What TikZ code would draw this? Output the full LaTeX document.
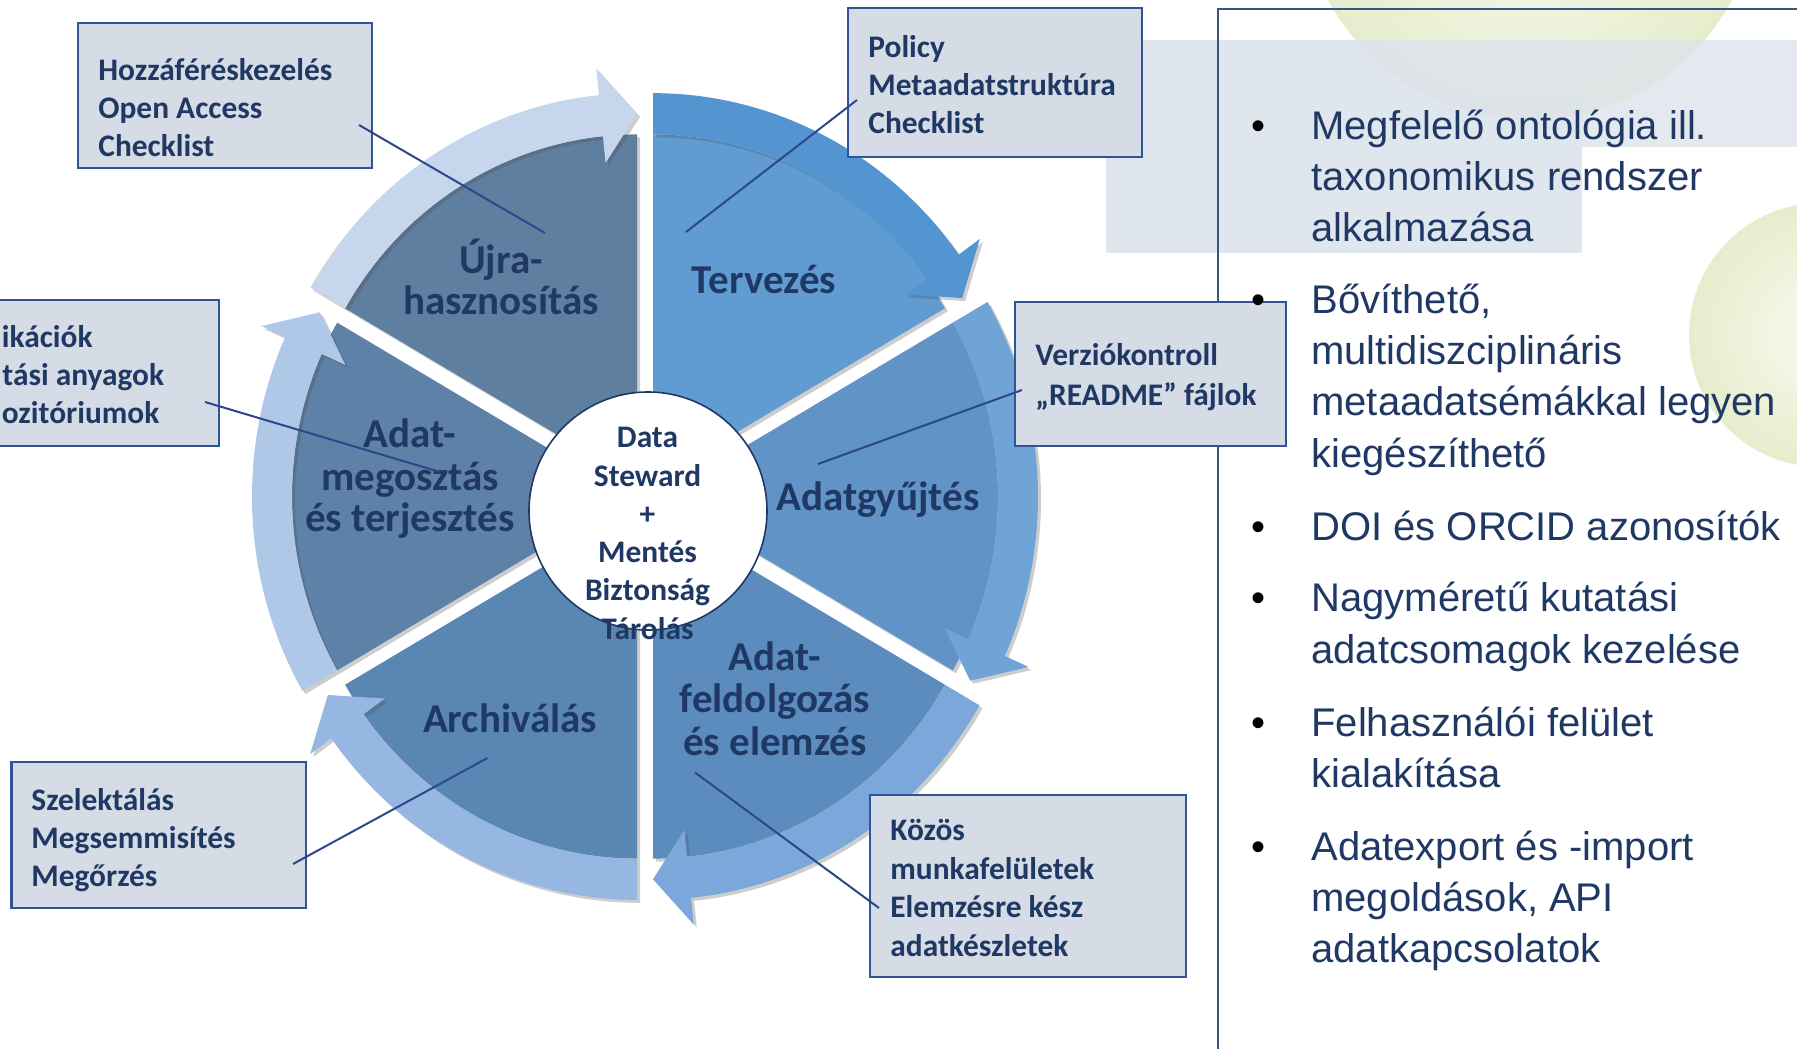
\documentclass[tikz,border=0pt]{standalone}
\usepackage{fontspec}
\setmainfont{Carlito}
\newfontfamily\arialf{Liberation Sans}
\usetikzlibrary{shadows,fit}
\definecolor{navy}{RGB}{31,56,100}
\definecolor{boxfill}{RGB}{214,220,229}
\definecolor{boxline}{RGB}{47,85,151}
\definecolor{connline}{RGB}{44,72,138}
\definecolor{panelline}{RGB}{58,83,128}
\definecolor{greyback}{RGB}{221,227,235}
\definecolor{greenin}{RGB}{248,250,240}
\definecolor{greenout}{RGB}{230,237,204}
\definecolor{pieA}{RGB}{96,156,210}
\definecolor{bandA}{RGB}{84,148,208}
\definecolor{pieB}{RGB}{97,147,199}
\definecolor{bandB}{RGB}{113,164,214}
\definecolor{pieC}{RGB}{92,140,190}
\definecolor{bandC}{RGB}{124,167,218}
\definecolor{pieD}{RGB}{90,134,180}
\definecolor{bandD}{RGB}{150,183,225}
\definecolor{pieE}{RGB}{94,129,168}
\definecolor{bandE}{RGB}{176,200,232}
\definecolor{pieF}{RGB}{95,127,160}
\definecolor{bandF}{RGB}{198,214,236}

\newcommand\wheelpie[2]{%
  \pgfmathsetmacro\wsA{#1}%
  \pgfmathsetmacro\wsE{#1-60}%
  \pgfmathsetmacro\wsM{#1-30}%
  \fill[#2, wheelshadow] (\wsM:16) -- ++(\wsA:337) arc[start angle=\wsA, end angle=\wsE, radius=337] -- cycle;%
}
\newcommand\wheelband[2]{%
  \pgfmathsetmacro\wsA{#1}%
  \pgfmathsetmacro\wsE{#1-60}%
  \pgfmathsetmacro\wsH{#1-54.2}%
  \pgfmathsetmacro\wsM{#1-30}%
  \begin{scope}[shift={(\wsM:16)}]
  \fill[#2, wheelshadow] (\wsA:377) arc[start angle=\wsA, end angle=\wsH, radius=377] -- (\wsH:403) -- (\wsE:357) -- (\wsH:311) -- (\wsH:337) arc[start angle=\wsH, end angle=\wsA, radius=337] -- cycle;
  \end{scope}%
}

\begin{document}
\begin{tikzpicture}[x=0.5pt, y=-0.5pt,
  wheelshadow/.style={drop shadow={shadow xshift=1.5pt, shadow yshift=-1.5pt, opacity=0.28, fill=black!70}},
  seglabel/.style={font=\fontsize{20.5}{21}\selectfont\bfseries, text=navy, anchor=base, inner sep=0pt},
  hubtext/.style={font=\fontsize{15.7}{19}\selectfont\bfseries, text=navy, anchor=base, inner sep=0pt},
  calltext/.style={font=\fontsize{15.7}{19}\selectfont\bfseries, text=navy, anchor=base west, inner sep=0pt},
  bullettext/.style={font=\arialf\fontsize{20}{25}\selectfont, text=navy, anchor=base west, inner sep=0pt},
  bulletdot/.style={font=\arialf\fontsize{20}{25}\selectfont, text=black, anchor=base, inner sep=0pt},
  callout/.style={draw=boxline, fill=boxfill, line width=1.3pt, inner sep=0pt},
  conn/.style={draw=connline, line width=1pt},
  hubstyle/.style={circle, draw=navy, line width=0.8pt, fill=white, minimum size=119pt, inner sep=0pt}
]
\useasboundingbox (0,0) rectangle (1797,1049);
\clip (0,0) rectangle (1797,1049);

% background decorations
\shade[inner color=greenin, outer color=greenout] (1530,-110) circle[radius=230];
\shade[inner color=greenin, outer color=greenout] (1821,335) circle[radius=132];
\fill[greyback, opacity=0.9] (1106,40) rectangle (1582,253);
\fill[greyback, opacity=0.8] (1582,40) rectangle (1797,147);
\draw[panelline, line width=0.65pt] (1218,1049) -- (1218,9) -- (1797,9);

% wheel
\begin{scope}[shift={(645,496.5)}, yscale=-1.032]
  \wheelpie{90}{pieA}
  \wheelpie{30}{pieB}
  \wheelpie{-30}{pieC}
  \wheelpie{-90}{pieD}
  \wheelpie{210}{pieE}
  \wheelpie{150}{pieF}
  \wheelband{90}{bandA}
  \wheelband{30}{bandB}
  \wheelband{-30}{bandC}
  \wheelband{-90}{bandD}
  \wheelband{210}{bandE}
  \wheelband{150}{bandF}
\end{scope}

% hub
\node[hubstyle] (hub) at (648,511) {};

% sector labels
\node[seglabel] (lujra1) at (501,273) {Újra-};
\node[seglabel] (lujra2) at (501,314) {hasznosítás};
\node[seglabel] (lterv) at (764,293) {Tervezés};
\node[seglabel] (lgyujt) at (878,510) {Adatgyűjtés};
\node[seglabel] (lfeld1) at (775,670) {Adat-};
\node[seglabel] (lfeld2) at (775,712) {feldolgozás};
\node[seglabel] (lfeld3) at (775,755) {és elemzés};
\node[seglabel] (larch) at (510,732) {Archiválás};
\node[seglabel] (lmeg1) at (410,447) {Adat-};
\node[seglabel] (lmeg2) at (410,490) {megosztás};
\node[seglabel] (lmeg3) at (410,531) {és terjesztés};

% hub text
\node[hubtext] (h1) at (647.5,447.5) {Data};
\node[hubtext] (h2) at (647.5,486) {Steward};
\node[hubtext] (h3) at (647.5,524) {+};
\node[hubtext] (h4) at (647.5,562.5) {Mentés};
\node[hubtext] (h5) at (647.5,600.5) {Biztonság};
\node[hubtext] (h6) at (647.5,639) {Tárolás};

% callout boxes
\node[callout, fit={(78,23) (372,168)}] (box1) {};
\node[callout, fit={(848,8) (1142,157)}] (box2) {};
\node[callout, fit={(1015,302) (1286,446)}] (box3) {};
\node[callout, fit={(-60,300) (219,446)}] (box4) {};
\node[callout, fit={(11.5,762) (306,908)}] (box5) {};
\node[callout, fit={(870,795) (1186,977)}] (box6) {};

\node[calltext] (t1a) at (98,80) {Hozzáféréskezelés};
\node[calltext] (t1b) at (98,118) {Open Access};
\node[calltext] (t1c) at (98,156.5) {Checklist};

\node[calltext] (t2a) at (868,57) {Policy};
\node[calltext] (t2b) at (868,95) {Metaadatstruktúra};
\node[calltext] (t2c) at (868,133.5) {Checklist};

\node[calltext] (t3a) at (1035,365) {Verziókontroll};
\node[calltext] (t3b) at (1035,405) {„README” fájlok};

\node[calltext] (t4a) at (1.5,347) {ikációk};
\node[calltext] (t4b) at (2,385.5) {tási anyagok};
\node[calltext] (t4c) at (1.5,423.5) {ozitóriumok};

\node[calltext] (t5a) at (31,810) {Szelektálás};
\node[calltext] (t5b) at (31,848) {Megsemmisítés};
\node[calltext] (t5c) at (31,886) {Megőrzés};

\node[calltext] (t6a) at (890,840) {Közös};
\node[calltext] (t6b) at (890,879) {munkafelületek};
\node[calltext] (t6c) at (890,917) {Elemzésre kész};
\node[calltext] (t6d) at (890,956) {adatkészletek};

% connectors
\coordinate (c1a) at (359,125);  \coordinate (c1b) at (545,233);
\coordinate (c2a) at (857,100);  \coordinate (c2b) at (686,232);
\coordinate (c3a) at (1022,390); \coordinate (c3b) at (818,464);
\coordinate (c4a) at (205,402);  \coordinate (c4b) at (440,472);
\coordinate (c5a) at (293,864);  \coordinate (c5b) at (487.5,758);
\coordinate (c6a) at (879,908);  \coordinate (c6b) at (695,772.5);
\draw[conn] (c1a) -- (c1b);
\draw[conn] (c2a) -- (c2b);
\draw[conn] (c3a) -- (c3b);
\draw[conn] (c4a) -- (c4b);
\draw[conn] (c5a) -- (c5b);
\draw[conn] (c6a) -- (c6b);

% bullet list
\node[bulletdot] (d1) at (1258,139) {•};
\node[bullettext] (r1a) at (1311,139) {Megfelelő ontológia ill.};
\node[bullettext] (r1b) at (1311,190.5) {taxonomikus rendszer};
\node[bullettext] (r1c) at (1311,241.5) {alkalmazása};
\node[bulletdot] (d2) at (1258,313) {•};
\node[bullettext] (r2a) at (1311,313) {Bővíthető,};
\node[bullettext] (r2b) at (1311,364.5) {multidiszciplináris};
\node[bullettext] (r2c) at (1311,415.5) {metaadatsémákkal legyen};
\node[bullettext] (r2d) at (1311,467) {kiegészíthető};
\node[bulletdot] (d3) at (1258,540) {•};
\node[bullettext] (r3a) at (1311,540) {DOI és ORCID azonosítók};
\node[bulletdot] (d4) at (1258,611) {•};
\node[bullettext] (r4a) at (1311,611) {Nagyméretű kutatási};
\node[bullettext] (r4b) at (1311,663) {adatcsomagok kezelése};
\node[bulletdot] (d5) at (1258,736) {•};
\node[bullettext] (r5a) at (1311,736) {Felhasználói felület};
\node[bullettext] (r5b) at (1311,787) {kialakítása};
\node[bulletdot] (d6) at (1258,860) {•};
\node[bullettext] (r6a) at (1311,860) {Adatexport és -import};
\node[bullettext] (r6b) at (1311,911) {megoldások, API};
\node[bullettext] (r6c) at (1311,962) {adatkapcsolatok};
\end{tikzpicture}
\end{document}
